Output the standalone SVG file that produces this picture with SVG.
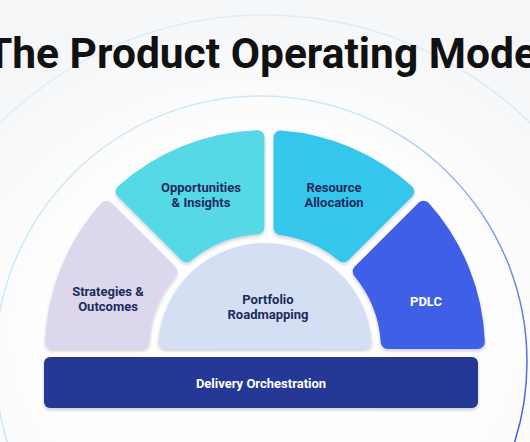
<svg xmlns="http://www.w3.org/2000/svg" width="530" height="442" viewBox="0 0 530 442">
  <defs>
    <radialGradient id="bg" cx="50%" cy="75%" r="75%">
      <stop offset="0" stop-color="#ffffff"/>
      <stop offset="0.6" stop-color="#fdfdfe"/>
      <stop offset="1" stop-color="#f5f6f7"/>
    </radialGradient>
    <linearGradient id="arcIn" x1="0" y1="0" x2="530" y2="442" gradientUnits="userSpaceOnUse">
      <stop offset="0" stop-color="#c5ecf4"/>
      <stop offset="0.5" stop-color="#cfe6f7"/>
      <stop offset="0.75" stop-color="#7fa0f0"/>
      <stop offset="1" stop-color="#3b5be6"/>
    </linearGradient>
    <linearGradient id="arcOut" x1="0" y1="0" x2="530" y2="0" gradientUnits="userSpaceOnUse">
      <stop offset="0" stop-color="#d9f1f6"/>
      <stop offset="1" stop-color="#dfe8f5"/>
    </linearGradient>
    <filter id="sh" x="-10%" y="-10%" width="120%" height="130%">
      <feDropShadow dx="0" dy="2" stdDeviation="1.6" flood-color="#1a2040" flood-opacity="0.22"/>
    </filter>
    <style>
      .seg { stroke-width: 14; stroke-linejoin: round; filter: url(#sh); }
      .lbl { font-family: Roboto, "Liberation Sans", sans-serif; font-weight: 700; font-size: 13px; text-anchor: middle; fill: #1d2b5c; }
      .lblw { fill: #ffffff; }
      .arc { fill: none; }
    </style>
  </defs>
  <rect width="530" height="442" fill="url(#bg)"/>
  <g id="bg-arcs">
    <circle class="arc" cx="265" cy="395" r="380" stroke="url(#arcOut)" stroke-width="1.5"/>
    <circle class="arc" cx="261" cy="362" r="266" stroke="url(#arcIn)" stroke-width="1.5"/>
  </g>
  <text x="267" y="68" font-family="Roboto, 'Liberation Sans', sans-serif" font-weight="700" font-size="42.5" text-anchor="middle" fill="#111111">The Product Operating Model</text>
  <g id="connectors"/>
  <g id="strategies">
    <path class="seg" d="M 52.15 342 A 213 213 0 0 1 106.48 207.74 L 170.28 271.54 A 123 123 0 0 0 142.26 342 Z" fill="#ddd7ee" stroke="#ddd7ee"/>
    <text class="lbl" x="108" y="296">Strategies &amp;</text>
    <text class="lbl" x="108" y="311">Outcomes</text>
  </g>
  <g id="opportunities">
    <path class="seg" d="M 122.74 191.48 A 213 213 0 0 1 257.5 137.13 L 257.5 227.23 A 123 123 0 0 0 186.54 255.28 Z" fill="#55d9e7" stroke="#55d9e7"/>
    <text class="lbl" x="201" y="192">Opportunities</text>
    <text class="lbl" x="201" y="207">&amp; Insights</text>
  </g>
  <g id="resource">
    <path class="seg" d="M 280.5 137.57 A 213 213 0 0 1 407.26 191.48 L 343.46 255.28 A 123 123 0 0 0 280.5 227.98 Z" fill="#36c7eb" stroke="#36c7eb"/>
    <text class="lbl" x="334" y="192">Resource</text>
    <text class="lbl" x="334" y="207">Allocation</text>
  </g>
  <g id="pdlc">
    <path class="seg" d="M 423.52 207.74 A 213 213 0 0 1 477.85 342 L 387.74 342 A 123 123 0 0 0 359.72 271.54 Z" fill="#3f5ee7" stroke="#3f5ee7"/>
    <text class="lbl lblw" x="426" y="306">PDLC</text>
  </g>
  <g id="portfolio">
    <path class="seg" d="M 165.32 342 A 100 100 0 0 1 364.68 342 Z" fill="#d5dff3" stroke="#d5dff3"/>
    <text class="lbl" x="268" y="304">Portfolio</text>
    <text class="lbl" x="268" y="319">Roadmapping</text>
  </g>
  <g id="delivery">
    <rect x="44" y="357" width="434" height="51" rx="6" fill="#263796" filter="url(#sh)"/>
    <text class="lbl lblw" x="261" y="388">Delivery Orchestration</text>
  </g>
</svg>
